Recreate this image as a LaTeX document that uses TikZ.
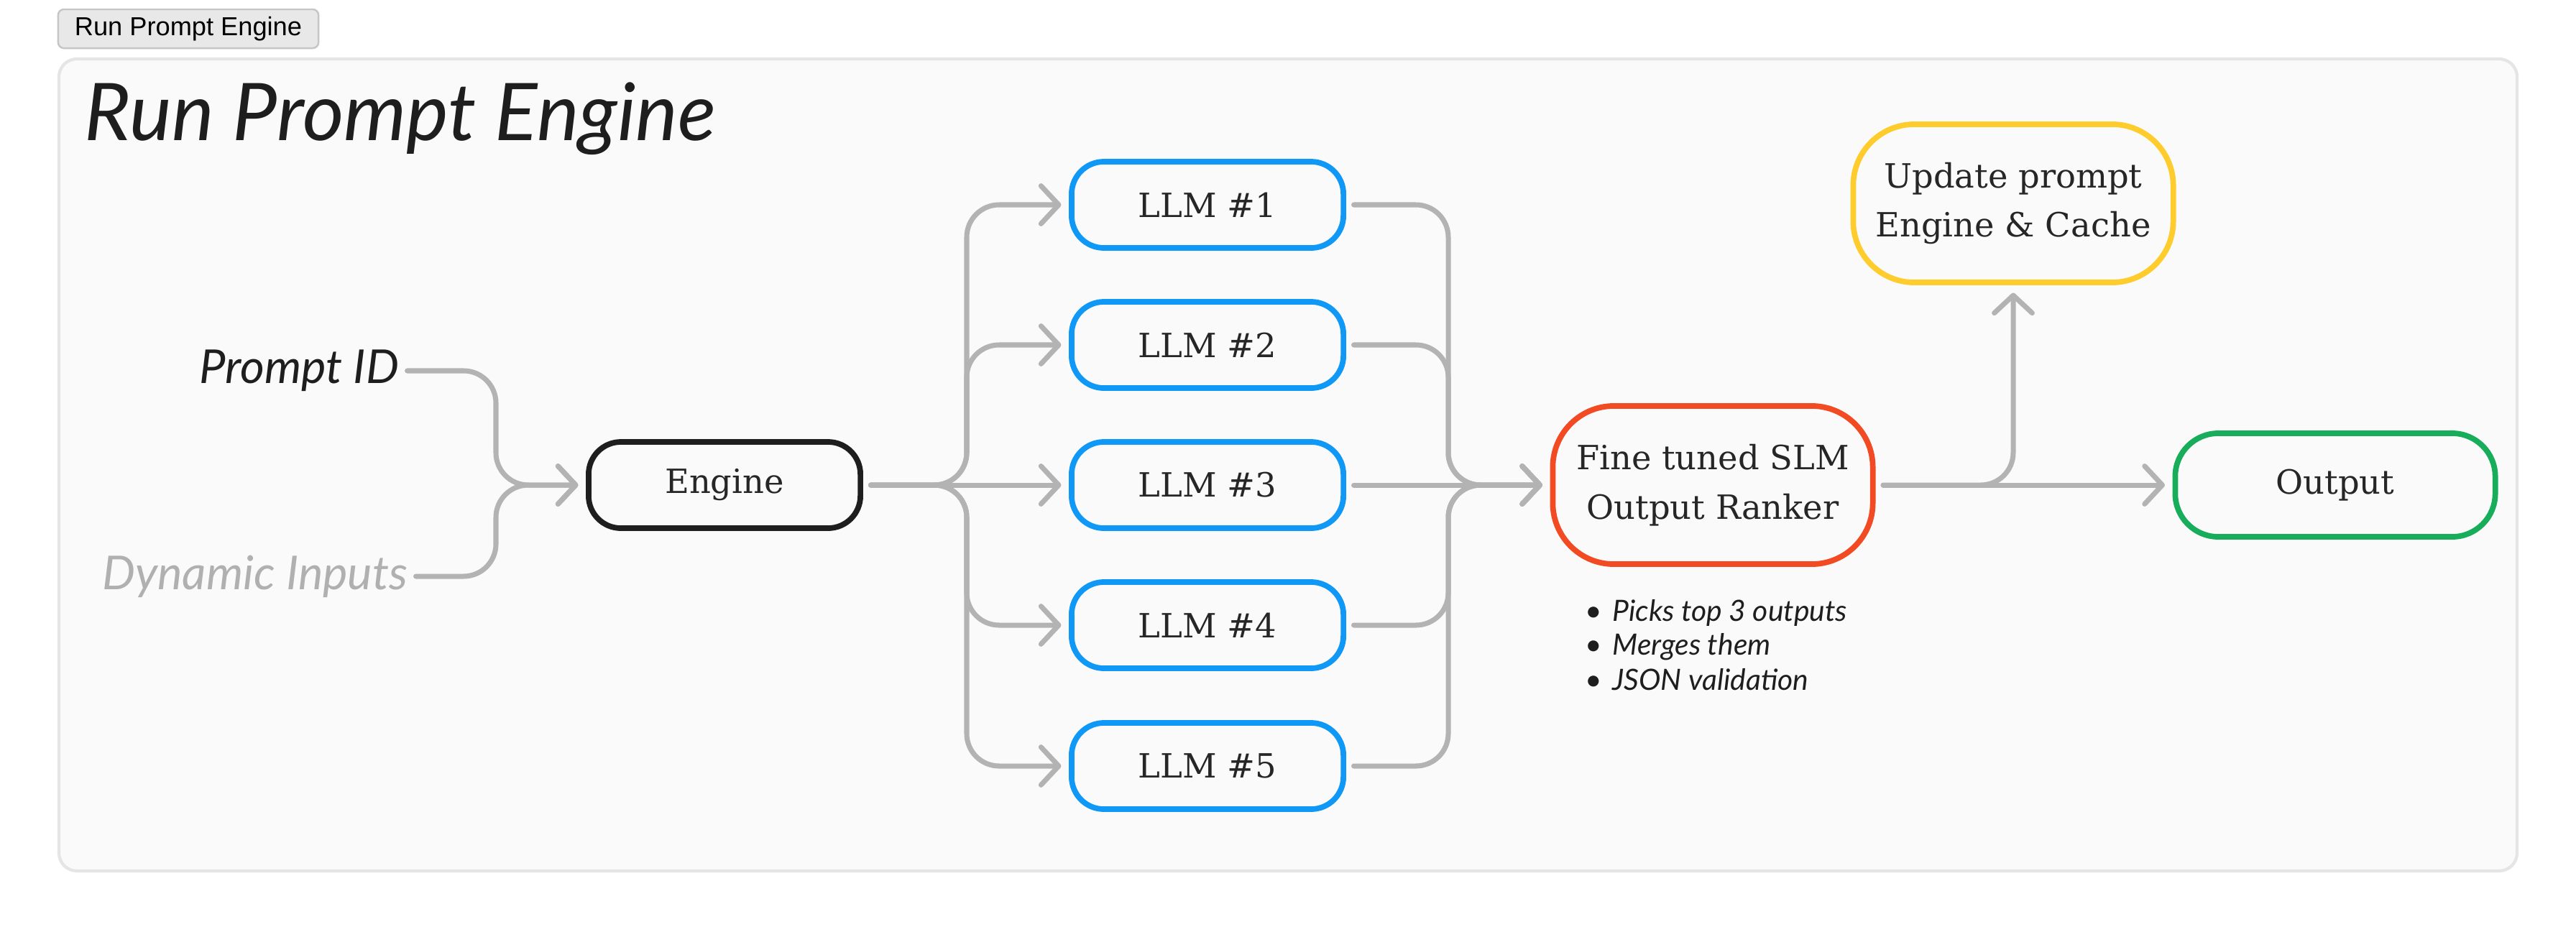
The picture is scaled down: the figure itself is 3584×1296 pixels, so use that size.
\documentclass[tikz,border=0pt]{standalone}
\usepackage{fontspec}
\setmainfont{DejaVu Serif}
\newfontfamily\uisans{Liberation Sans}
\newfontfamily\hand{Lato}
\usetikzlibrary{arrows.meta}
\definecolor{panelbg}{HTML}{FAFAFA}
\definecolor{panelborder}{HTML}{E5E5E5}
\definecolor{tabfill}{HTML}{E8E8E8}
\definecolor{tabborder}{HTML}{C6C6C6}
\definecolor{arrowgray}{HTML}{B3B3B3}
\definecolor{llmblue}{HTML}{1098F7}
\definecolor{slmred}{HTML}{F24A23}
\definecolor{updyellow}{HTML}{FFCC2E}
\definecolor{outgreen}{HTML}{17AD5B}
\definecolor{engineblack}{HTML}{1E1E1E}
\definecolor{textdark}{HTML}{262626}
\definecolor{dyngray}{HTML}{B0B0B0}
\tikzset{
  box/.style={rectangle, draw, fill=panelbg, line width=2.2pt, align=center,
    text=textdark, font=\fontsize{13.2}{19.5}\selectfont, inner sep=0pt},
  smallbox/.style={box, rounded corners=0.45cm, minimum width=3.78cm, minimum height=1.2cm},
  bigbox/.style={box, rounded corners=0.85cm, minimum width=4.45cm, minimum height=2.2cm},
  conn/.style={draw=arrowgray, line width=2pt, rounded corners=0.45cm, line cap=round,
    -{Straight Barb[length=7pt,width=15pt,round]}, shorten >=3pt, shorten <=3pt},
  handlabel/.style={font=\hand\itshape\fontsize{18.5}{21}\selectfont, inner sep=0pt},
  bullet/.style={font=\hand\itshape\fontsize{11.6}{13}\selectfont, inner sep=0pt, anchor=west, text=engineblack}
}
\begin{document}
\begin{tikzpicture}[x=0.01cm,y=-0.01cm]
\useasboundingbox (0,0) rectangle (3584,1296);
\fill[white] (0,0) rectangle (3584,1296);
% tab
\node[rectangle, draw=tabborder, fill=tabfill, line width=0.7pt, rounded corners=0.08cm,
  minimum width=3.62cm, minimum height=0.54cm, inner sep=0pt,
  font=\uisans\fontsize{10.3}{12}\selectfont, text=black] (tab) at (262,40) {Run Prompt Engine};
% panel
\draw[fill=panelbg, draw=panelborder, line width=1.2pt, rounded corners=0.25cm] (82,82) rectangle (3502,1212);
% title
\node[anchor=west, inner sep=0pt, font=\hand\itshape\fontsize{31.5}{34}\selectfont, text=engineblack] (title) at (117,165) {Run Prompt Engine};
% inputs
\node[handlabel, anchor=east, text=engineblack] (pid) at (556,516) {Prompt ID};
\node[handlabel, anchor=east, text=dyngray] (dyn) at (568,802) {Dynamic Inputs};
% nodes
\node[smallbox, draw=engineblack] (engine) at (1008,675) {Engine};
\node[smallbox, draw=llmblue] (llm1) at (1680,285) {LLM \#1};
\node[smallbox, draw=llmblue] (llm2) at (1680,480) {LLM \#2};
\node[smallbox, draw=llmblue] (llm3) at (1680,675) {LLM \#3};
\node[smallbox, draw=llmblue] (llm4) at (1680,870) {LLM \#4};
\node[smallbox, draw=llmblue] (llm5) at (1680,1066) {LLM \#5};
\node[bigbox, draw=slmred] (slm) at (2383,675) {Fine tuned SLM\\Output Ranker};
\node[bigbox, draw=updyellow] (upd) at (2801,283) {Update prompt\\Engine \& Cache};
\node[box, draw=outgreen, rounded corners=0.6cm, minimum width=4.45cm, minimum height=1.44cm] (out) at (3249,675) {Output};
% bullets
\node[bullet] (b1) at (2205,853) {\textbullet\hspace{4pt}Picks top 3 outputs};
\node[bullet] (b2) at (2205,900) {\textbullet\hspace{4pt}Merges them};
\node[bullet] (b3) at (2205,946) {\textbullet\hspace{4pt}JSON validation};
% connectors
\draw[conn] (pid.east) -- (690,516) -- (690,675) -- (engine.west);
\draw[conn] (dyn.east) -- (690,802) -- (690,675) -- (engine.west);
\draw[conn] (engine.east) -- (1345,675) |- (llm1.west);
\draw[conn] (engine.east) -- (1345,675) |- (llm2.west);
\draw[conn] (engine.east) -- (llm3.west);
\draw[conn] (engine.east) -- (1345,675) |- (llm4.west);
\draw[conn] (engine.east) -- (1345,675) |- (llm5.west);
\draw[conn] (llm1.east) -| (2015,675) -- (slm.west);
\draw[conn] (llm2.east) -| (2015,675) -- (slm.west);
\draw[conn] (llm3.east) -- (slm.west);
\draw[conn] (llm4.east) -| (2015,675) -- (slm.west);
\draw[conn] (llm5.east) -| (2015,675) -- (slm.west);
\draw[conn] (slm.east) -- (out.west);
\draw[conn] (slm.east) -| (upd.south);
\end{tikzpicture}
\end{document}
